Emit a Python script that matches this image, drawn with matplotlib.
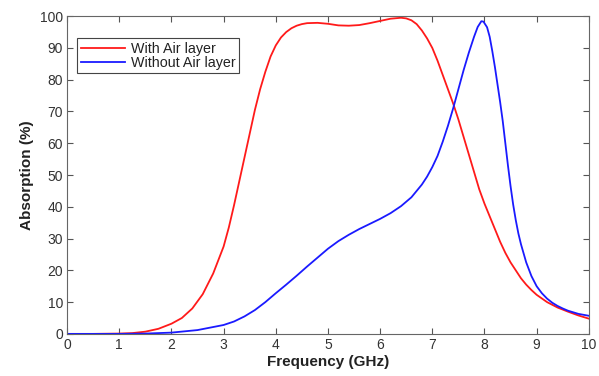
import matplotlib
matplotlib.use("Agg")
import matplotlib.pyplot as plt

# values
freq_air = [0, 0.5, 1, 1.25, 1.5, 1.75, 2, 2.2, 2.4, 2.6, 2.8, 3, 3.1, 3.2, 3.3,
            3.4, 3.5, 3.6, 3.7, 3.8, 3.9, 4, 4.1, 4.2, 4.3, 4.4, 4.5, 4.6, 4.8,
            5, 5.2, 5.4, 5.6, 5.8, 6, 6.2, 6.4, 6.5, 6.6, 6.7, 6.8, 6.9, 7, 7.1,
            7.2, 7.3, 7.4, 7.5, 7.6, 7.7, 7.8, 7.9, 8, 8.1, 8.2, 8.3, 8.4, 8.5,
            8.6, 8.7, 8.8, 8.9, 9, 9.2, 9.4, 9.6, 9.8, 10]
abs_air = [0, 0, 0.1, 0.25, 0.7, 1.6, 3.2, 5, 8, 12.5, 19, 27.5, 33.5, 40.5, 48,
           55.5, 63, 70.5, 77, 82.5, 87.3, 90.8, 93.3, 95, 96.2, 97, 97.5, 97.8, 97.9,
           97.6, 97.1, 97, 97.2, 97.8, 98.5, 99.2, 99.5, 99.3, 98.7, 97.5, 95.5, 93, 90, 86,
           81.5, 77, 72.5, 67.5, 62, 56.5, 51, 45.5, 41, 37, 33, 29, 25.5, 22.5,
           20, 17.5, 15.5, 13.8, 12.3, 10, 8.3, 7, 5.8, 4.8]

freq_noair = [0, 1, 1.5, 2, 2.5, 3, 3.2, 3.4, 3.6, 3.8, 4, 4.2, 4.4, 4.6, 4.8,
              5, 5.2, 5.4, 5.6, 5.8, 6, 6.2, 6.4, 6.6, 6.8, 6.9, 7, 7.1, 7.2,
              7.3, 7.4, 7.5, 7.6, 7.7, 7.8, 7.87, 7.94, 7.98, 8.05, 8.1, 8.15, 8.2,
              8.25, 8.3, 8.35, 8.4, 8.45, 8.5, 8.55, 8.6, 8.65, 8.7, 8.8, 8.9, 9,
              9.1, 9.2, 9.3, 9.4, 9.5, 9.6, 9.7, 9.8, 9.9, 10]
abs_noair = [0, 0, 0.1, 0.4, 1.2, 2.8, 3.9, 5.5, 7.5, 10, 12.8, 15.5, 18.3, 21.2, 24,
             26.8, 29.2, 31.2, 33, 34.6, 36.2, 38, 40.2, 43, 47, 49.5, 52.5, 56, 60.5,
             65.5, 71, 77, 83, 88.5, 93.5, 96.6, 98.4, 98.3, 96.5, 93.5, 89, 84,
             78.5, 73, 67, 60, 53, 46.5, 40.7, 35.8, 31.6, 28.2, 22.5, 18.2, 15,
             12.8, 11.1, 9.8, 8.8, 8, 7.3, 6.8, 6.3, 6, 5.7]

xticks = list(range(0, 11))
yticks = list(range(0, 101, 10))

plt.rcParams['font.family'] = ['Liberation Sans', 'DejaVu Sans']
txt = '#333333'

fig = plt.figure(figsize=(5.99, 3.76), dpi=100)
ax = fig.add_axes([0.112, 0.112, 0.871, 0.845])
ax.plot(freq_air, abs_air, color='#ff1a1a', lw=1.3, label='With Air layer')
ax.plot(freq_noair, abs_noair, color='#1a1aff', lw=1.3, label='Without Air layer')

ax.set_xlim(0, 10)
ax.set_ylim(0, 100)
ax.set_xticks(xticks)
ax.set_yticks(yticks)
ax.tick_params(direction='in', length=4, width=0.8, top=True, right=True,
               labelsize=10, colors='#555555', labelcolor=txt, pad=3)
for s in ax.spines.values():
    s.set_color('#666666')
    s.set_linewidth(0.8)

ax.set_xlabel('Frequency (GHz)', fontsize=11, fontweight='bold', color='#222222', labelpad=2)
ax.set_ylabel('Absorption (%)', fontsize=11, fontweight='bold', color='#222222', labelpad=4)

leg = ax.legend(loc='upper left', bbox_to_anchor=(0.019, 0.931), fontsize=10.3,
                handlelength=3.1, handletextpad=0.4, borderpad=0.25,
                labelspacing=0.0, borderaxespad=0, fancybox=False, framealpha=1)
leg.get_frame().set_edgecolor('#444444')
leg.get_frame().set_linewidth(0.8)
for t in leg.get_texts():
    t.set_color('#222222')

fig.savefig('out.png', dpi=100)
